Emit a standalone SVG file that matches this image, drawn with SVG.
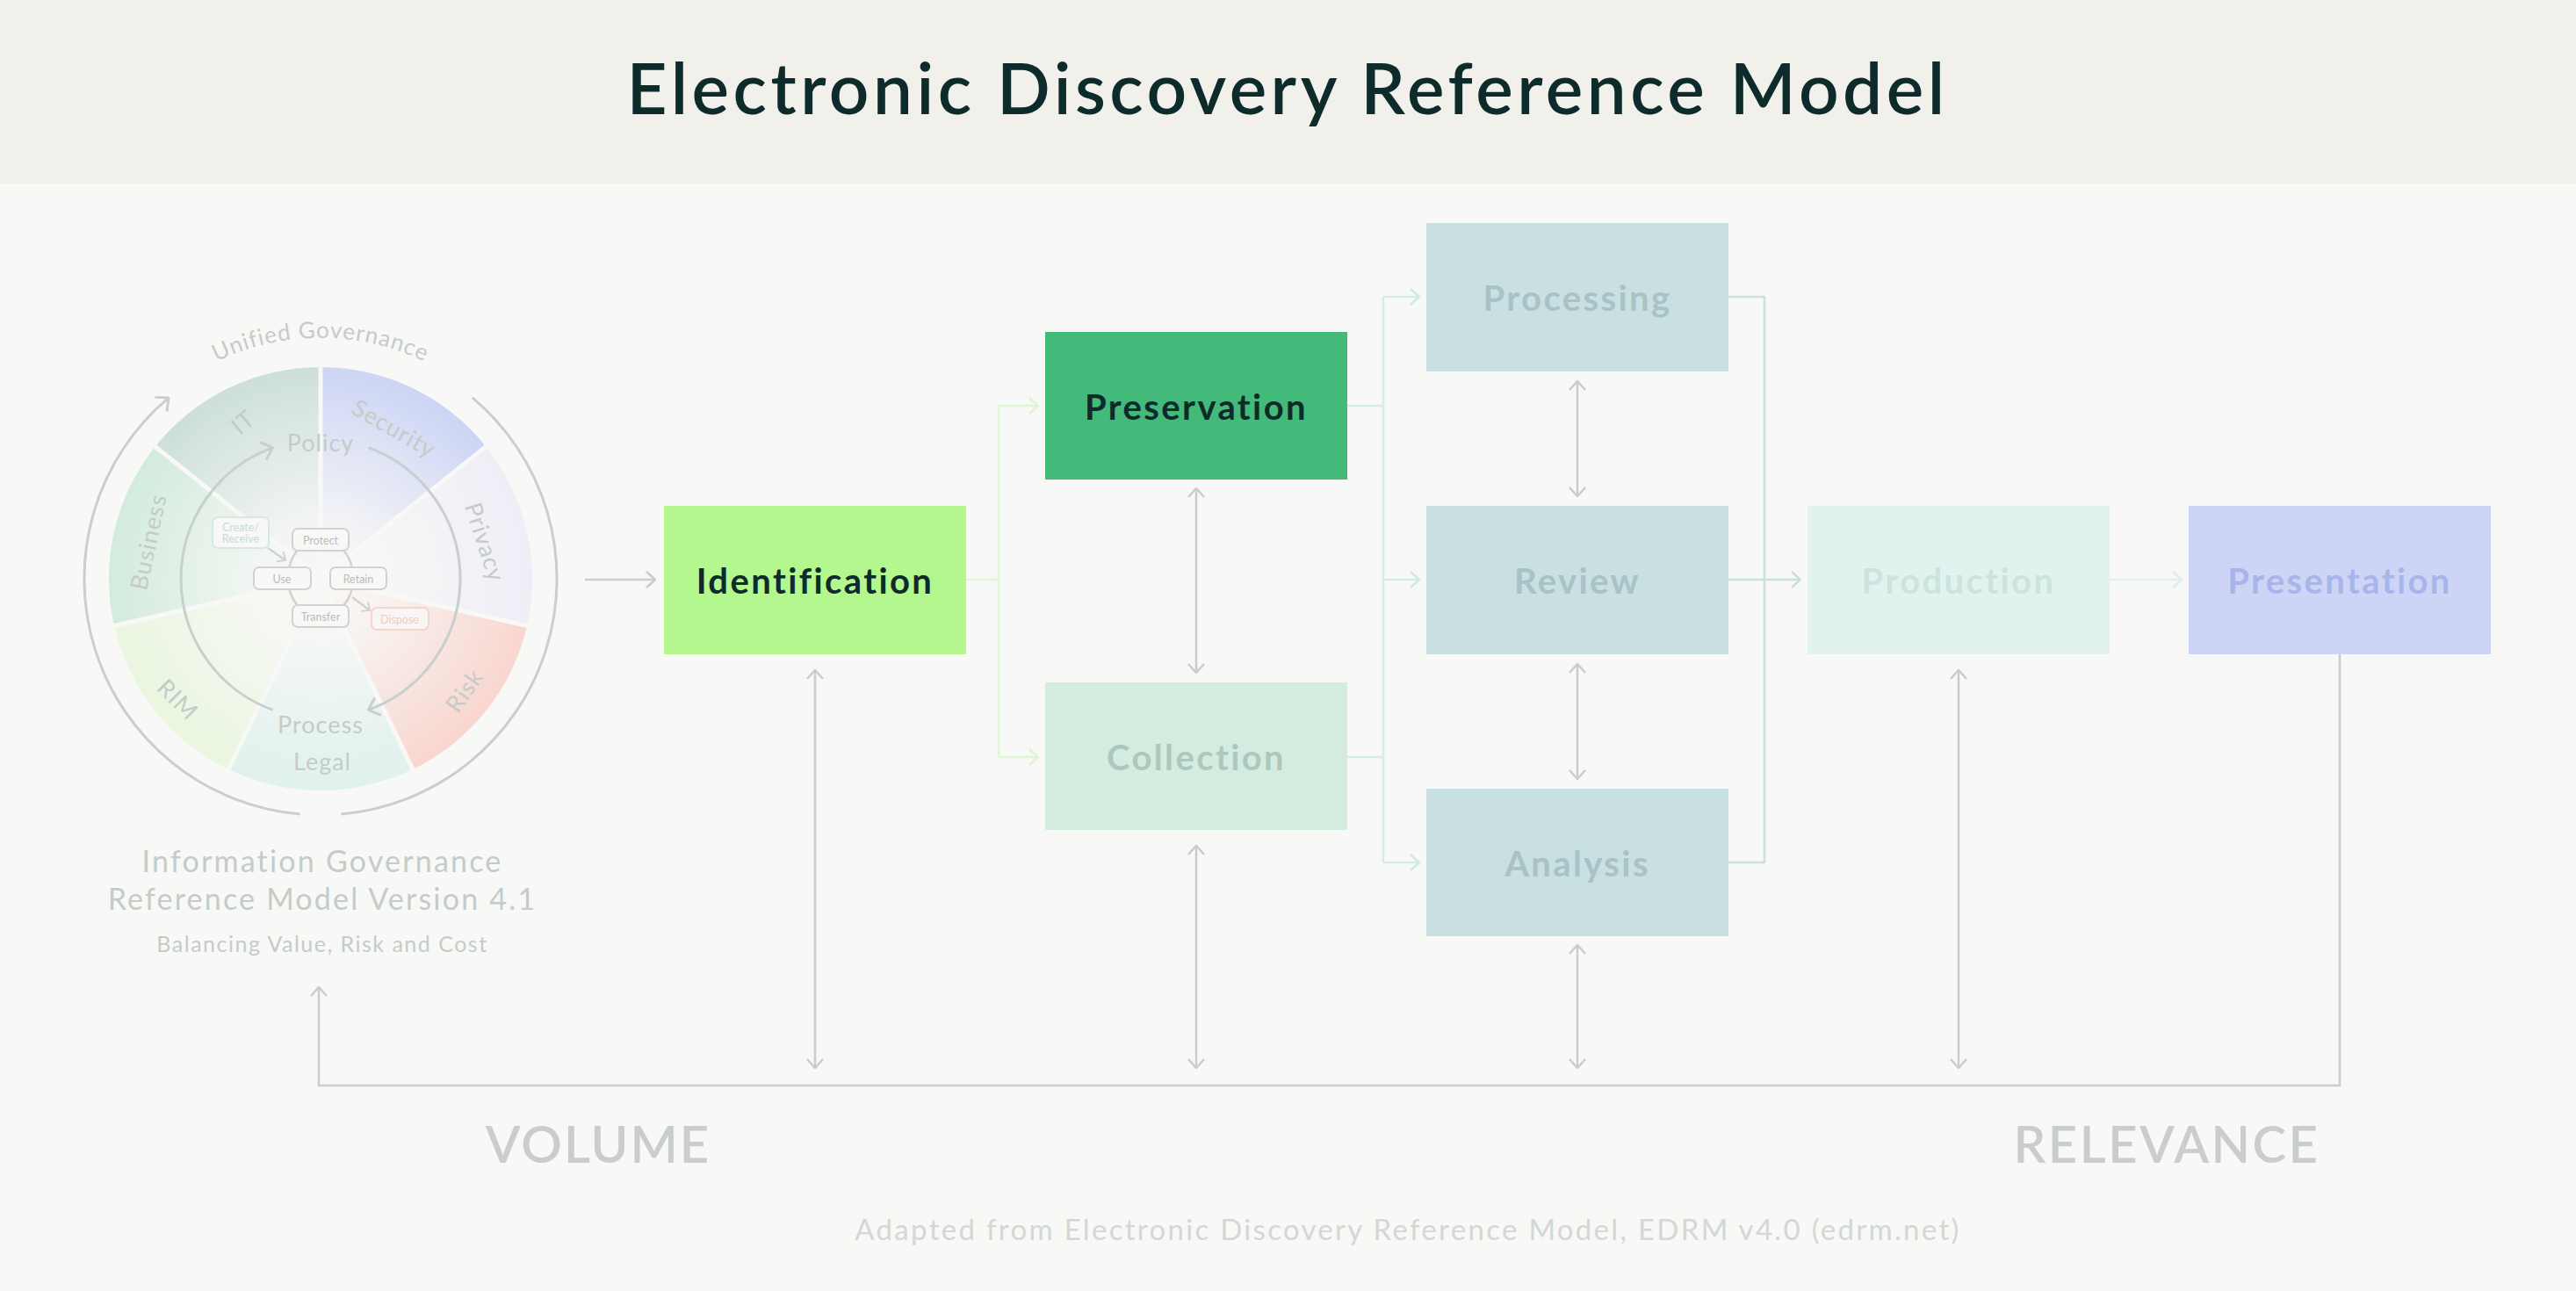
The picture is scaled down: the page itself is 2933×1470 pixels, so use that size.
<svg xmlns="http://www.w3.org/2000/svg" width="2933" height="1470" viewBox="0 0 2933 1470">
<defs>
<style>
text{font-family:Lato,"Noto Sans","DejaVu Sans",sans-serif}
.node text{font-size:40px;font-weight:700;text-anchor:middle;dominant-baseline:central;letter-spacing:2.4px}
.wl{font-size:27px;fill:#c4ccc9;text-anchor:middle;dominant-baseline:central;letter-spacing:1px}
.lc rect{stroke:#cfd3d2;stroke-width:2}
.lc text{font-size:12.5px;fill:#b8bdbb;text-anchor:middle;dominant-baseline:central}
.g{stroke:#c9cdcc;stroke-width:2.5;fill:none}
.lg{stroke:#e0f5d6;stroke-width:2.5;fill:none}
.mg{stroke:#d6ede3;stroke-width:2.5;fill:none}
.tl{stroke:#c9e0e3;stroke-width:2.5;fill:none}
.pg{stroke:#e0f2ec;stroke-width:2.5;fill:none}
.wheel{stroke:#c8cfcc;stroke-width:3;fill:none}
</style>
<marker id="ag" viewBox="0 0 12 20" refX="11" refY="10" markerWidth="12" markerHeight="20" markerUnits="userSpaceOnUse" orient="auto-start-reverse"><path d="M1,1 L11,10 L1,19" fill="none" stroke="#c9cdcc" stroke-width="2.5"/></marker>
<marker id="alg" viewBox="0 0 12 20" refX="11" refY="10" markerWidth="12" markerHeight="20" markerUnits="userSpaceOnUse" orient="auto"><path d="M1,1 L11,10 L1,19" fill="none" stroke="#dcf4d0" stroke-width="2.5"/></marker>
<marker id="amg" viewBox="0 0 12 20" refX="11" refY="10" markerWidth="12" markerHeight="20" markerUnits="userSpaceOnUse" orient="auto"><path d="M1,1 L11,10 L1,19" fill="none" stroke="#d0ebdf" stroke-width="2.5"/></marker>
<marker id="atl" viewBox="0 0 12 20" refX="11" refY="10" markerWidth="12" markerHeight="20" markerUnits="userSpaceOnUse" orient="auto"><path d="M1,1 L11,10 L1,19" fill="none" stroke="#c9e0e3" stroke-width="2.5"/></marker>
<marker id="apg" viewBox="0 0 12 20" refX="11" refY="10" markerWidth="12" markerHeight="20" markerUnits="userSpaceOnUse" orient="auto"><path d="M1,1 L11,10 L1,19" fill="none" stroke="#dcefe9" stroke-width="2.5"/></marker>
<marker id="aw" viewBox="0 0 12 20" refX="11" refY="10" markerWidth="14" markerHeight="24" markerUnits="userSpaceOnUse" orient="auto"><path d="M1,1 L11,10 L1,19" fill="none" stroke="#c8cfcc" stroke-width="2.5"/></marker>
<marker id="as" viewBox="0 0 12 20" refX="11" refY="10" markerWidth="9" markerHeight="15" markerUnits="userSpaceOnUse" orient="auto"><path d="M1,1 L11,10 L1,19" fill="none" stroke="#cfd3d2" stroke-width="2.5"/></marker>
<radialGradient id="fade" cx="365" cy="659" r="241" gradientUnits="userSpaceOnUse">
<stop offset="0" stop-color="#f8f8f6" stop-opacity="1"/>
<stop offset="0.3" stop-color="#f8f8f6" stop-opacity="0.85"/>
<stop offset="1" stop-color="#f8f8f6" stop-opacity="0"/>
</radialGradient>
<path id="ugArc" d="M189,449 A273,273 0 0 1 541,449"/>
</defs>
<rect width="2933" height="1470" fill="#f8f8f6"/>
<rect width="2933" height="209" fill="#f1f0eb"/>
<text x="1466" y="130" font-size="80" font-weight="600" fill="#0d2b2b" text-anchor="middle" letter-spacing="4.5">Electronic Discovery Reference Model</text>

<g id="ig-wheel">
<path d="M365,659 L365,418 A241,241 0 0 1 553.4,508.7 Z" fill="#cdd5f5"/>
<path d="M365,659 L553.4,508.7 A241,241 0 0 1 600,712.6 Z" fill="#efeef7"/>
<path d="M365,659 L600,712.6 A241,241 0 0 1 469.6,876.1 Z" fill="#f9d6cf"/>
<path d="M365,659 L469.6,876.1 A241,241 0 0 1 260.4,876.1 Z" fill="#e0f1ee"/>
<path d="M365,659 L260.4,876.1 A241,241 0 0 1 130,712.6 Z" fill="#eaf6e0"/>
<path d="M365,659 L130,712.6 A241,241 0 0 1 176.6,508.7 Z" fill="#d3ebde"/>
<path d="M365,659 L176.6,508.7 A241,241 0 0 1 365,418 Z" fill="#cddfd9"/>
<circle cx="365" cy="659" r="242" fill="url(#fade)"/>
<g stroke="#f8f8f6" stroke-width="5">
<line x1="365" y1="659" x2="365" y2="416"/><line x1="365" y1="659" x2="555" y2="507"/><line x1="365" y1="659" x2="602" y2="713"/><line x1="365" y1="659" x2="471" y2="878"/><line x1="365" y1="659" x2="259" y2="878"/><line x1="365" y1="659" x2="128" y2="713"/><line x1="365" y1="659" x2="175" y2="507"/>
</g>
<path class="wheel" d="M341.5,927 A269,269 0 0 1 192.1,452.9" marker-end="url(#aw)"/>
<path class="wheel" d="M537.9,452.9 A269,269 0 0 1 388.5,927"/>
<path class="wheel" d="M310.6,808.4 A159,159 0 0 1 310.6,509.6" marker-end="url(#aw)"/>
<path class="wheel" d="M419.4,509.6 A159,159 0 0 1 419.4,808.4" marker-end="url(#aw)"/>
<text font-size="26" fill="#c4ccc9" letter-spacing="1"><textPath href="#ugArc" startOffset="50%" text-anchor="middle">Unified Governance</textPath></text>
<text class="wl" transform="translate(276,480) rotate(-40)">IT</text>
<text class="wl" transform="translate(449,487) rotate(30)">Security</text>
<text class="wl" transform="translate(553,617) rotate(72)">Privacy</text>
<text class="wl" transform="translate(528,786) rotate(-55)">Risk</text>
<text class="wl" x="367" y="866">Legal</text>
<text class="wl" transform="translate(203,796) rotate(45)">RIM</text>
<text class="wl" transform="translate(168,617) rotate(-78)">Business</text>
<text class="wl" x="365" y="503">Policy</text>
<text class="wl" x="365" y="824">Process</text>
<g class="lc">
<ellipse cx="365" cy="658" rx="37" ry="45" fill="none" stroke="#cfd3d2" stroke-width="2.5"/>
<path d="M305,624 L325,638" stroke="#cfd3d2" stroke-width="2.5" fill="none" marker-end="url(#as)"/>
<path d="M401,680 L421,695" stroke="#cfd3d2" stroke-width="2.5" fill="none" marker-end="url(#as)"/>
<rect x="242" y="589" width="64" height="35" rx="6" fill="#f8f8f6" style="stroke:#d6e8e2"/>
<text x="274" y="600" style="fill:#c5ddd6">Create/</text><text x="274" y="613" style="fill:#c5ddd6">Receive</text>
<rect x="333" y="602" width="64" height="25" rx="6" fill="#f8f8f6"/><text x="365" y="615">Protect</text>
<rect x="289" y="646" width="65" height="25" rx="6" fill="#f8f8f6"/><text x="321" y="659">Use</text>
<rect x="376" y="646" width="64" height="25" rx="6" fill="#f8f8f6"/><text x="408" y="659">Retain</text>
<rect x="333" y="689" width="64" height="25" rx="6" fill="#f8f8f6"/><text x="365" y="702">Transfer</text>
<rect x="423" y="692" width="65" height="25" rx="6" fill="#f8f6f5" style="stroke:#f6d3cd"/><text x="455" y="705" style="fill:#f3c9c2">Dispose</text>
</g>
<text x="367" y="993" font-size="34" fill="#c4ccc9" text-anchor="middle" letter-spacing="2.2">Information Governance</text>
<text x="367" y="1036" font-size="34" fill="#c4ccc9" text-anchor="middle" letter-spacing="2.2">Reference Model Version 4.1</text>
<text x="367" y="1084" font-size="25" fill="#c4ccc9" text-anchor="middle" letter-spacing="1.5">Balancing Value, Risk and Cost</text>
</g>

<g id="connectors">
<path class="g" d="M666,660 H746" marker-end="url(#ag)"/>
<path class="lg" d="M1100,660 H1137 M1137,462 V862"/>
<path class="lg" d="M1137,462 H1182" marker-end="url(#alg)"/>
<path class="lg" d="M1137,862 H1182" marker-end="url(#alg)"/>
<path class="mg" d="M1534,462 H1575 M1534,862 H1575 M1575,338 V982"/>
<path class="mg" d="M1575,338 H1616" marker-end="url(#amg)"/>
<path class="mg" d="M1575,660 H1616" marker-end="url(#amg)"/>
<path class="mg" d="M1575,982 H1616" marker-end="url(#amg)"/>
<path class="tl" d="M1968,338 H2009 V982 H1968"/>
<path class="tl" d="M1968,660 H2050" marker-end="url(#atl)"/>
<path class="pg" d="M2402,660 H2484" marker-end="url(#apg)"/>
<path class="g" d="M1362,556 V766" marker-start="url(#ag)" marker-end="url(#ag)"/>
<path class="g" d="M1796,434 V565" marker-start="url(#ag)" marker-end="url(#ag)"/>
<path class="g" d="M1796,756 V887" marker-start="url(#ag)" marker-end="url(#ag)"/>
<path class="g" d="M1796,1076 V1216" marker-start="url(#ag)" marker-end="url(#ag)"/>
<path class="g" d="M1362,963 V1216" marker-start="url(#ag)" marker-end="url(#ag)"/>
<path class="g" d="M928,763 V1216" marker-start="url(#ag)" marker-end="url(#ag)"/>
<path class="g" d="M2230,763 V1216" marker-start="url(#ag)" marker-end="url(#ag)"/>
<path class="g" d="M2664,745 V1236 H363 V1124" marker-end="url(#ag)"/>
</g>

<g id="identification" class="node"><rect x="756" y="576" width="344" height="169" fill="#b3f78e"/><text x="928" y="661" fill="#0f2a2a">Identification</text></g>
<g id="preservation" class="node"><rect x="1190" y="378" width="344" height="168" fill="#43b97a"/><text x="1362" y="463" fill="#0f2a2a">Preservation</text></g>
<g id="collection" class="node"><rect x="1190" y="777" width="344" height="168" fill="#d4ecdf"/><text x="1362" y="862" fill="#abc8be">Collection</text></g>
<g id="processing" class="node"><rect x="1624" y="254" width="344" height="169" fill="#c8e0e2"/><text x="1796" y="339" fill="#a8c2c6">Processing</text></g>
<g id="review" class="node"><rect x="1624" y="576" width="344" height="169" fill="#c8e0e2"/><text x="1796" y="661" fill="#a8c2c6">Review</text></g>
<g id="analysis" class="node"><rect x="1624" y="898" width="344" height="168" fill="#c8e0e2"/><text x="1796" y="983" fill="#a8c2c6">Analysis</text></g>
<g id="production" class="node"><rect x="2058" y="576" width="344" height="169" fill="#e2f3ef"/><text x="2230" y="661" fill="#cbe4dd">Production</text></g>
<g id="presentation" class="node"><rect x="2492" y="576" width="344" height="169" fill="#cdd4f5"/><text x="2664" y="661" fill="#a9b5ea">Presentation</text></g>

<text x="681" y="1324" font-size="58" font-weight="600" fill="#c9cecc" text-anchor="middle" letter-spacing="2">VOLUME</text>
<text x="2467" y="1324" font-size="58" font-weight="600" fill="#c9cecc" text-anchor="middle" letter-spacing="2.5">RELEVANCE</text>
<text x="1603" y="1412" font-size="33" fill="#d3d7d5" text-anchor="middle" letter-spacing="2.3">Adapted from Electronic Discovery Reference Model, EDRM v4.0 (edrm.net)</text>
</svg>
